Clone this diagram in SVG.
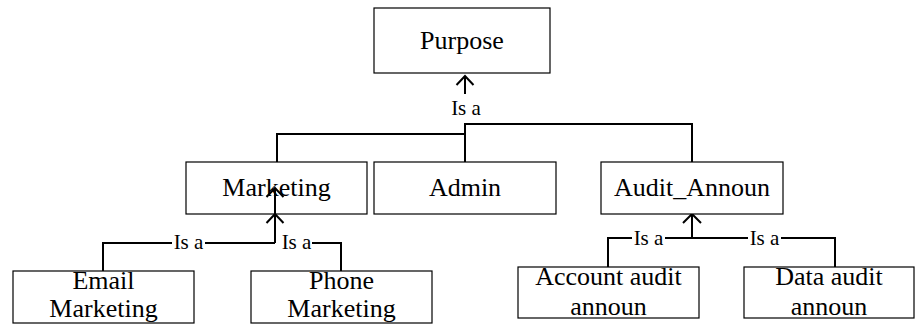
<svg xmlns="http://www.w3.org/2000/svg" width="916" height="324" viewBox="0 0 916 324">
<style>
.box{fill:#fff;stroke:#000;stroke-width:1.2}
.t{font-family:"Liberation Serif","Times New Roman",serif;font-size:26px;fill:#000;text-anchor:middle}
.lbl{font-family:"Liberation Serif","Times New Roman",serif;font-size:21px;fill:#000;text-anchor:middle}
.ln{fill:none;stroke:#000;stroke-width:2}
</style>
<rect width="916" height="324" fill="#fff"/>
<g id="connectors">
  <path class="ln" d="M465,76 V94"/>
  <path class="ln" d="M456.5,85 L465,76 L473.5,85"/>
  <path class="ln" d="M465,123 V162 M465,124 H692 V162 M465,134 H277 V162"/>
  <text class="lbl" x="466" y="115">Is a</text>
  <path class="ln" d="M275,188 V243"/>
  <path class="ln" d="M266.5,197 L275,188 L283.5,197"/>
  <path class="ln" d="M266.5,223 L275,214 L283.5,223"/>
  <path class="ln" d="M103,271 V243 H172 M205,243 H275 M312,243 H341 V271"/>
  <text class="lbl" x="188.5" y="249">Is a</text>
  <text class="lbl" x="296.5" y="249">Is a</text>
  <path class="ln" d="M692,214 V238"/>
  <path class="ln" d="M683,223 L692,214 L701,223"/>
  <path class="ln" d="M608,267 V238 H632 M665,238 H748 M781,238 H835 V267"/>
  <text class="lbl" x="648.5" y="245">Is a</text>
  <text class="lbl" x="764.5" y="245">Is a</text>
</g>
<g id="purpose">
  <rect class="box" x="374" y="8" width="176" height="65"/>
  <text class="t" x="462" y="49">Purpose</text>
</g>
<g id="marketing">
  <rect class="box" x="186" y="162" width="181" height="52" style="fill:none"/>
  <text class="t" x="276.5" y="196">Marketing</text>
</g>
<g id="admin">
  <rect class="box" x="374" y="162" width="182" height="52"/>
  <text class="t" x="465" y="196">Admin</text>
</g>
<g id="audit_announ">
  <rect class="box" x="601" y="162" width="182" height="52"/>
  <text class="t" x="692" y="196">Audit_Announ</text>
</g>
<g id="email_marketing">
  <rect class="box" x="13" y="271" width="181" height="52"/>
  <text class="t" x="103.5" y="289">Email</text>
  <text class="t" x="103.5" y="317">Marketing</text>
</g>
<g id="phone_marketing">
  <rect class="box" x="251" y="271" width="181" height="52"/>
  <text class="t" x="341.5" y="289">Phone</text>
  <text class="t" x="341.5" y="317">Marketing</text>
</g>
<g id="account_audit_announ">
  <rect class="box" x="518" y="267" width="181" height="51"/>
  <text class="t" x="608.5" y="285">Account audit</text>
  <text class="t" x="608.5" y="315">announ</text>
</g>
<g id="data_audit_announ">
  <rect class="box" x="744" y="267" width="170" height="51"/>
  <text class="t" x="829" y="285">Data audit</text>
  <text class="t" x="829" y="315">announ</text>
</g>
</svg>
